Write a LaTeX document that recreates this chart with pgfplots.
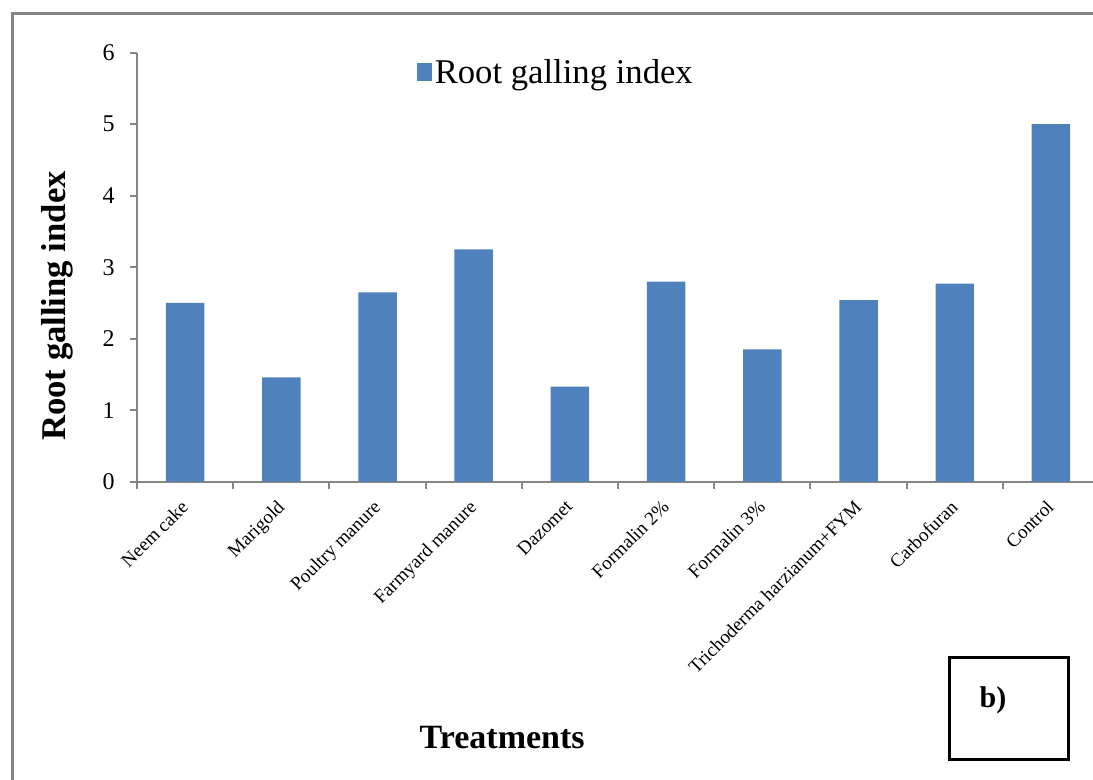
\documentclass[border=0pt]{standalone}
\usepackage{fontspec}
\setmainfont{Liberation Serif}
\usepackage{pgfplots}
\pgfplotsset{compat=1.18}
\definecolor{barblue}{HTML}{4F81BD}
\definecolor{axgray}{HTML}{868686}
\definecolor{framegray}{HTML}{858585}
\begin{document}
\begin{tikzpicture}
\path[use as bounding box] (0pt,0pt) rectangle (819.75pt,585pt);
\draw[framegray, line width=2.25pt] (9pt,0pt) -- (9pt,574.9pt) -- (819.75pt,574.9pt);
\begin{axis}[
  at={(102.75pt,223.7pt)}, anchor=south west,
  scale only axis, width=717pt, height=321.75pt,
  xmin=-0.5, xmax=9.437, ymin=0, ymax=6,
  separate axis lines,
  axis x line*=bottom, axis y line*=left,
  axis line style={draw=axgray, line width=1.5pt, -},
  clip=false,
  ybar, bar width=0.4,
  ytick={0,1,2,3,4,5,6},
  xtick={-0.5,0.5,1.5,2.5,3.5,4.5,5.5,6.5,7.5,8.5},
  xticklabels={},
  extra x ticks={0,1,2,3,4,5,6,7,8,9},
  extra x tick labels={Neem cake,Marigold,Poultry manure,Farmyard manure,Dazomet,Formalin 2\%,Formalin 3\%,Trichoderma harzianum+FYM,Carbofuran,Control},
  extra x tick style={major tick length=0pt, tick style={draw=none}},
  tick align=outside, major tick length=5.25pt,
  tick style={draw=axgray, line width=1.5pt},
  /pgf/number format/assume math mode=true,
  yticklabel style={font=\fontsize{18}{21}\selectfont, anchor=east, inner sep=0pt, xshift=-11.25pt},
  xticklabel style={font=\fontsize{14.3}{17}\selectfont, rotate=45, anchor=north east, inner sep=0pt, xshift=-11.8pt, yshift=-6.1pt},
  ylabel={\textbf{Root galling index}},
  ylabel style={font=\fontsize{26}{30}\selectfont, at={(axis description cs:-0.0837,0.4096)}, anchor=center},
  xlabel={\textbf{Treatments}},
  xlabel style={font=\fontsize{25.5}{30}\selectfont, at={(axis description cs:0.382,-0.621)}, anchor=base},
  legend style={at={(axis description cs:0.293,0.955)}, anchor=west, draw=none, fill=none, inner sep=0pt, outer sep=0pt, font=\fontsize{26}{30}\selectfont},
  legend image code/.code={\fill[barblue] (-1.5pt,-6.75pt) rectangle (9.75pt,6.75pt);},
]
\addplot[fill=barblue, draw=none] coordinates {
  (0,2.50) (1,1.46) (2,2.65) (3,3.25) (4,1.33)
  (5,2.80) (6,1.85) (7,2.54) (8,2.77) (9,5.00)
};
\addlegendentry{Root galling index}
\end{axis}
\draw[black, line width=2.25pt] (711.75pt,15pt) rectangle (801pt,91.5pt);
\node[font=\bfseries\fontsize{22.5}{27}\selectfont] at (744.75pt,60pt) {b)};
\end{tikzpicture}
\end{document}
